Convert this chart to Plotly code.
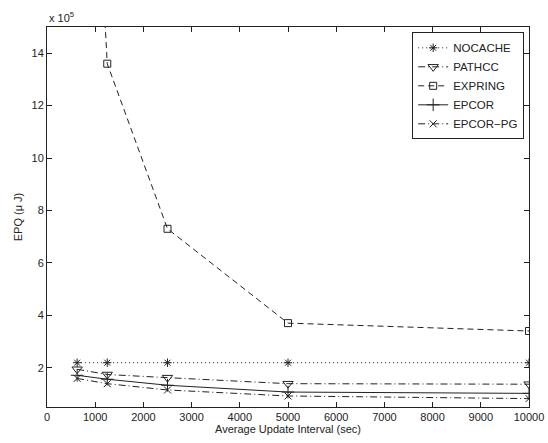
import plotly.graph_objects as go

x_vals = [625, 1250, 2500, 5000, 10000]
nocache = [2.19e5, 2.19e5, 2.19e5, 2.19e5, 2.19e5]
pathcc = [1.94e5, 1.74e5, 1.62e5, 1.39e5, 1.37e5]
expring = [35.0e5, 13.6e5, 7.3e5, 3.7e5, 3.4e5]
epcor = [1.71e5, 1.56e5, 1.33e5, 1.07e5, 1.02e5]
epcor_pg = [1.59e5, 1.39e5, 1.15e5, 0.92e5, 0.82e5]

y_ticks = [2e5, 4e5, 6e5, 8e5, 10e5, 12e5, 14e5]
y_tick_text = ["2", "4", "6", "8", "10", "12", "14"]
x_ticks = [0, 1000, 2000, 3000, 4000, 5000, 6000, 7000, 8000, 9000, 10000]
x_tick_text = [str(v) for v in x_ticks]

FONT = "Liberation Sans, Arial, sans-serif"
C = "#222"

series = [
    ("NOCACHE", nocache, "1px,3px", "asterisk-open", 7),
    ("PATHCC", pathcc, "7px,3px,1px,3px", "triangle-down-open", 9),
    ("EXPRING", expring, "6px,4px", "square-open", 7),
    ("EPCOR", epcor, "solid", "cross-thin-open", 9),
    ("EPCOR\u2212PG", epcor_pg, "7px,3px,1px,3px", "x-thin-open", 7),
]

fig = go.Figure()
for name, ys, dash, sym, sz in series:
    fig.add_trace(go.Scatter(
        x=x_vals, y=ys, name=name, mode="lines+markers",
        line=dict(color=C, width=1, dash=dash),
        marker=dict(symbol=sym, size=sz, color=C, line=dict(color=C, width=1)),
        cliponaxis=True,
    ))

fig.update_layout(
    width=548, height=443,
    margin=dict(l=47, r=19, t=27, b=36, autoexpand=False),
    paper_bgcolor="white", plot_bgcolor="white",
    font=dict(family=FONT, size=11, color=C),
    showlegend=True,
    legend=dict(
        x=0.99, y=0.986, xanchor="right", yanchor="top",
        bgcolor="white", bordercolor=C, borderwidth=1,
        font=dict(size=11.5, family=FONT, color=C),
        tracegroupgap=0, itemwidth=30,
    ),
    xaxis=dict(
        range=[0, 10000], tickvals=x_ticks, ticktext=x_tick_text,
        ticks="inside", ticklen=5,
        tickcolor=C, showline=True, linecolor=C, linewidth=1, mirror="ticks",
        showgrid=False, zeroline=False, automargin=False,
        title=dict(text="Average Update Interval (sec)", standoff=0, font=dict(size=11)),
        tickfont=dict(size=11),
    ),
    yaxis=dict(
        range=[0.5e5, 15e5], tickvals=y_ticks, ticktext=y_tick_text,
        ticks="inside", ticklen=5, tickcolor=C,
        showline=True, linecolor=C, linewidth=1, mirror="ticks",
        showgrid=False, zeroline=False, automargin=False,
        title=dict(text="EPQ (\u03bc J)", standoff=6, font=dict(size=11)),
        tickfont=dict(size=11),
    ),
)

fig.add_annotation(
    text="x 10<sup>5</sup>", xref="paper", yref="paper", x=0, y=1.0,
    xanchor="left", yanchor="bottom", showarrow=False,
    font=dict(size=11, family=FONT, color=C), yshift=1,
)

fig.write_html("out.html", config={"displayModeBar": False},
               post_script="document.body.style.margin='0';")
